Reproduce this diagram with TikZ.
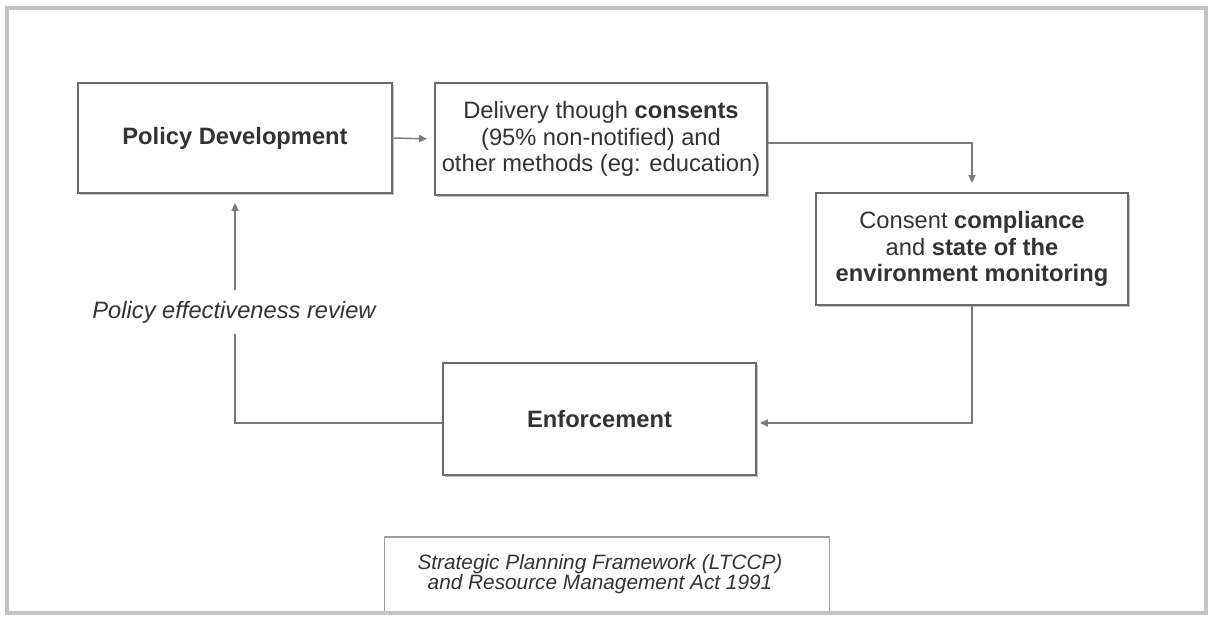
\documentclass[tikz,border=0pt]{standalone}
\usepackage{fontspec}
\setmainfont{Liberation Sans}
\usetikzlibrary{shadows,arrows.meta,calc}
\definecolor{framegray}{HTML}{C4C4C4}
\definecolor{boxgray}{HTML}{6A6A6A}
\definecolor{linegray}{HTML}{7A7A7A}
\definecolor{txtgray}{HTML}{333333}
\begin{document}
\begin{tikzpicture}[x=1pt,y=-1pt,
  mainfont/.style={font=\fontsize{23.7}{26.5}\selectfont},
  procbox/.style={draw=boxgray, line width=1.8pt, fill=white, inner sep=0pt,
    text=txtgray, align=center, mainfont,
    drop shadow={shadow xshift=1.6pt, shadow yshift=-1.6pt, fill=gray!60, opacity=0.8}},
  conn/.style={draw=linegray, line width=1.4pt, -{Triangle[length=8pt,width=7pt]}},
  plainline/.style={draw=linegray, line width=1.4pt}]
\useasboundingbox (0,0) rectangle (1214,616);
\fill[white] (0,0) rectangle (1214,616);
\draw[framegray, line width=4pt] (7,8) rectangle (1206,613);

\node[procbox, minimum width=314, minimum height=110] (P) at (235,138) {\textbf{Policy Development}};
\node[procbox, minimum width=332, minimum height=112] (D) at (601,139)
  {Delivery though \textbf{consents}\\(95\% non-notified) and\\other methods (eg: education)};
\node[procbox, minimum width=312, minimum height=112] (C) at (972,249)
  {Consent \textbf{compliance}\\and \textbf{state of the}\\\textbf{environment monitoring}};
\node[procbox, minimum width=313, minimum height=112] (E) at (599.5,419) {\textbf{Enforcement}};

\node[draw=framegray!80!black, line width=1.6pt, fill=white, minimum width=445, minimum height=76, inner sep=0pt, text=txtgray, align=center,
  font=\fontsize{20.8}{20}\selectfont\itshape] (S) at (607,575)
  {\raisebox{6pt}{\hspace*{-14pt}\begin{tabular}{@{}c@{}}Strategic Planning Framework (LTCCP)\\[-1pt]and Resource Management Act 1991\end{tabular}}};
\draw[framegray, line width=4pt] (5,613) -- (1208,613);

\coordinate (d1) at ($(D.east)+(0,4)$);
\coordinate (d2) at (C.north |- d1);
\coordinate (c1) at (C.south |- 0,423);
\coordinate (e1) at (E.east |- 0,423);
\coordinate (e2) at (E.west |- 0,423);
\coordinate (p1) at (P.south |- 0,423);

\draw[conn, shorten >=7pt] (P.east) -- (D.west);
\draw[conn, shorten >=9pt] (d1) -- (d2) -- (C.north);
\draw[conn, shorten >=3pt] (C.south) -- (c1) -- (e1);
\draw[conn, shorten >=9pt] (e2) -- (p1) -- (P.south);

\node[fill=white, inner sep=0pt, minimum height=44, text=txtgray, mainfont, font=\fontsize{23.7}{26.5}\selectfont\itshape] (L) at (234,312) {Policy effectiveness review};
\end{tikzpicture}
\end{document}
